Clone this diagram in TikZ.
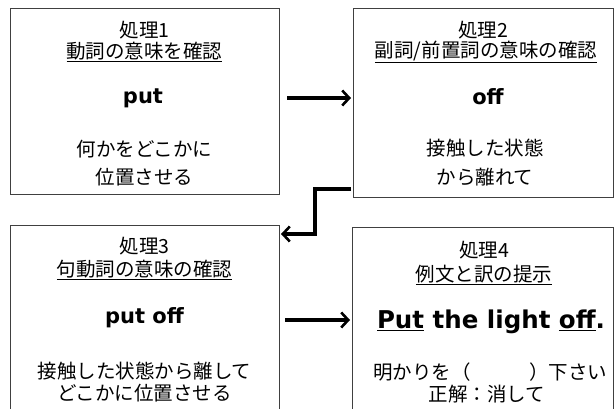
\documentclass[tikz,border=0pt]{standalone}
\usepackage{fontspec}
\setmainfont{Noto Sans CJK JP}
\newfontfamily\enbold{DejaVu Sans}
\usetikzlibrary{arrows.meta}
\tikzset{
  box/.style={draw=black!75, line width=0.9pt, fill=white},
  jp/.style={font=\fontsize{19.5}{22}\selectfont, inner sep=0pt, anchor=center},
  en/.style={font=\enbold\bfseries\fontsize{21}{24}\selectfont, inner sep=0pt, anchor=center},
  bigen/.style={en, font=\enbold\bfseries\fontsize{24.5}{28}\selectfont},
  flow/.style={line width=3.2pt, black, -{Straight Barb[length=7pt,width=15pt,line width=2.6pt]}},
}
\begin{document}
\begin{tikzpicture}[x=1pt,y=-1pt]
\useasboundingbox (0,0) rectangle (614,409);
% boxes
\draw[box] (10,8) rectangle (279,194);
\draw[box] (353,8) rectangle (613,197);
\draw[box] (10,225) rectangle (279,420);
\draw[box] (352,227) rectangle (613,420);
\coordinate (b1r) at (279,98);
\coordinate (b2l) at (353,98);
\coordinate (b3r) at (279,320);
\coordinate (b4l) at (352,320);
\coordinate (b2c) at (351,189);
\coordinate (b3t) at (279,234);
% box 1
\node[jp] (t1a) at (144.5,30) {処理1};
\node[jp] (t1b) at (144.5,52) {\underline{動詞の意味を確認}};
\node[en] (t1c) at (143,98) {put};
\node[jp] (t1d) at (144.5,149) {何かをどこかに};
\node[jp] (t1e) at (144.5,177) {位置させる};
% box 2
\node[jp] (t2a) at (483,30) {処理2};
\node[jp] (t2b) at (486,52) {\underline{副詞/前置詞の意味の確認}};
\node[en] (t2c) at (488,97) {off};
\node[jp] (t2d) at (485,148) {接触した状態};
\node[jp] (t2e) at (485,177) {から離れて};
% box 3
\node[jp] (t3a) at (144.5,246) {処理3};
\node[jp] (t3b) at (144.5,270) {\underline{句動詞の意味の確認}};
\node[en] (t3c) at (144.5,318) {put off};
\node[jp] (t3d) at (144.5,371) {接触した状態から離して};
\node[jp] (t3e) at (144.5,393) {どこかに位置させる};
% box 4
\node[jp] (t4a) at (484,250) {処理4};
\node[jp] (t4b) at (484,275) {\underline{例文と訳の提示}};
\node[bigen] (t4c) at (491,322) {\underline{Put} the light \underline{off}.};
\node[jp] (t4d) at (490,372) {明かりを（\hspace{3em}）下さい};
\node[jp] (t4e) at (487,394) {正解：消して};
% arrows
\draw[flow] ([xshift=8pt]b1r) -- ([xshift=-2pt]b2l);
\draw[flow] (b2c) -- (315,189) -- (315,234) -- ([xshift=2pt]b3t);
\draw[flow] ([xshift=6pt]b3r) -- ([xshift=-2pt]b4l);
\end{tikzpicture}
\end{document}
